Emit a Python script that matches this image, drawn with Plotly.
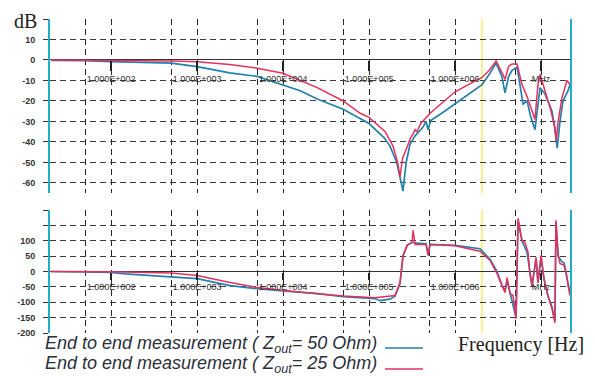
import math
import plotly.graph_objects as go

# ---------------- data ----------------
# Magnitude, Z_out = 50 Ohm (blue)
mag50_freq = [20, 50, 100, 200, 500, 1000, 2400, 5000, 1e4, 1.58e4, 2.5e4, 5e4, 1e5, 1.5e5,
              1.75e5, 2.1e5, 2.48e5, 2.7e5, 3.0e5, 3.43e5, 4.2e5, 4.6e5, 4.86e5, 5.2e5, 7e5,
              1e6, 1.5e6, 2.06e6, 2.5e6, 3.0e6, 3.5e6, 3.81e6, 4.2e6, 4.6e6, 5.26e6, 5.7e6,
              6.18e6, 6.9e6, 7.5e6, 8.5e6, 9.3e6, 9.73e6, 1.11e7, 1.34e7, 1.45e7, 1.54e7,
              1.66e7, 1.8e7, 2.06e7, 2.17e7]
mag50_db = [-0.2, -0.3, -0.8, -1.0, -1.5, -3.2, -6.3, -8, -12, -15, -19, -24, -31, -38,
            -42, -50, -64, -50, -41, -37, -33, -30, -34, -29.5, -26,
            -21.5, -16, -12, -7, -1.5, -8, -16, -8, -5, -3.5, -12,
            -21.5, -20, -27, -34, -20, -13.5, -16.5, -25, -34, -43,
            -30, -20, -15, -12]

# Magnitude, Z_out = 25 Ohm (red)
mag25_freq = [20, 50, 100, 500, 1000, 2400, 5000, 1e4, 1.4e4, 2.5e4, 5e4, 7.9e4, 1e5, 1.54e5,
              1.9e5, 2.15e5, 2.29e5, 2.45e5, 2.8e5, 3.0e5, 3.25e5, 3.43e5, 3.6e5, 4e5, 5.12e5,
              7e5, 1e6, 1.5e6, 2.06e6, 2.5e6, 3.0e6, 3.5e6, 3.81e6, 4.2e6, 4.6e6, 5.26e6,
              5.5e6, 6.0e6, 6.9e6, 7.45e6, 8.5e6, 9.2e6, 9.73e6, 1.11e7, 1.27e7, 1.45e7,
              1.5e7, 1.58e7, 1.75e7, 2.0e7, 2.17e7]
mag25_db = [0, 0, -0.2, -0.5, -0.8, -2.2, -4, -6.5, -9, -13.5, -20, -26, -28, -35,
            -42, -50, -57, -48, -42, -38.5, -36, -34, -35, -31, -26,
            -21, -15.5, -11.5, -8.5, -5, -0.5, -6, -9.5, -3, -2, -2,
            -6, -12, -18, -22.5, -29, -12, -7, -15, -23, -33,
            -39.5, -30, -18.5, -10, -12]

# Phase, Z_out = 50 Ohm (blue)
ph50_freq = [20, 50, 100, 146, 500, 1000, 2420, 5000, 1e4, 2.5e4, 5e4, 1.17e5, 1.34e5, 1.75e5,
             2.0e5, 2.29e5, 2.48e5, 2.77e5, 3.16e5, 3.52e5, 4.6e5, 4.86e5, 5.12e5, 7.66e5,
             1e6, 1.95e6, 2.55e6, 3.08e6, 3.52e6, 3.81e6, 4.03e6, 4.36e6, 5.12e6, 5.4e6,
             5.7e6, 6.0e6, 6.87e6, 7.45e6, 7.86e6, 8.75e6, 9.2e6, 1.0e7, 1.08e7, 1.2e7,
             1.34e7, 1.45e7, 1.49e7, 1.58e7, 1.75e7, 1.85e7, 1.95e7, 2.17e7]
ph50_deg = [0, -1, -3, -8, -18, -23, -46, -56, -63, -72, -82, -88, -95, -90,
            -80, -40, 50, 85, 95, 92, 90, 55, 88, 86,
            85, 74, 40, 0, -46, -62, -30, -69, -150, 165,
            135, 100, 62, -10, -46, 42, -36, 48, -23, -78,
            -115, -160, 160, 50, 32, 28, -3, -69]

# Phase, Z_out = 25 Ohm (red)
ph25_freq = [20, 50, 100, 500, 1000, 2420, 5000, 1e4, 2.5e4, 5e4, 1.17e5, 2.0e5, 2.29e5,
             2.48e5, 2.77e5, 3.16e5, 3.25e5, 3.43e5, 4.6e5, 4.86e5, 5.12e5, 7.66e5, 1e6,
             1.95e6, 2.55e6, 3.08e6, 3.52e6, 3.81e6, 4.03e6, 4.36e6, 4.72e6, 5.12e6, 5.4e6,
             5.7e6, 6.0e6, 6.5e6, 7.06e6, 7.45e6, 7.86e6, 8.75e6, 9.2e6, 1.0e7, 1.08e7,
             1.2e7, 1.34e7, 1.45e7, 1.49e7, 1.58e7, 1.66e7, 1.85e7, 1.95e7, 2.06e7, 2.17e7]
ph25_deg = [0, 0, -1, -5, -13, -36, -52, -62, -72, -80, -85, -78, -36,
            52, 85, 95, 134, 88, 88, 52, 88, 85, 84,
            66, 36, -7, -48, -69, -20, -72, -78, -154, 173,
            141, 100, 95, 62, -13, -46, 46, -36, 52, -23,
            -78, -121, -167, 167, 52, 26, 20, -3, -46, -78]

decade_vals = [1e2, 1e3, 1e4, 1e5, 1e6, 1e7]
decade_labels = ["1.000E+002", "1.000E+003", "1.000E+004", "1.000E+005", "1.000E+006", "MHz"]
half_decade_vals = [50, 500, 5e3, 5e4, 5e5, 5e6]
mag_tickvals = [10, 0, -10, -20, -30, -40, -50, -60]
mag_ticktext = ["10", "0", "-10", "-20", "-30", "-40", "-50", "-60"]
mag_unlabelled = [20]
ph_tickvals = [100, 50, 0, -50, -100, -150, -200]
ph_ticktext = ["100", "50", "0", "-50", "-100", "-150", "-200"]
ph_unlabelled = [200, 150]
marker_freq = 2.06e6

legend_50 = "End to end measurement ( Z<sub>out</sub>= 50 Ohm)"
legend_25 = "End to end measurement ( Z<sub>out</sub>= 25 Ohm)"

# ---------------- styling ----------------
BLUE = "#2381ad"
RED = "#e5305e"
CYAN = "#1fb0c6"
GRID = "#262626"
W, H = 595, 376
ML, MR, MT, MB = 50, 25, 19, 43
PH = H - MT - MB
x_range = [math.log10(19.5), math.log10(2.17e7)]
mag_range = [-64.9, 20]
ph_range = [-200, 200]
top_dom = [(H - MB - 193) / PH, 1.0]
bot_dom = [0.0, (H - MB - 210) / PH]


def zero_pos(dom, rng):
    return dom[0] + (0 - rng[0]) / (rng[1] - rng[0]) * (dom[1] - dom[0])


def px_x(px):
    return (px - ML) / (W - ML - MR)


def px_y(py):
    return (H - MB - py) / PH


fig = go.Figure()
fig.add_trace(go.Scatter(x=mag50_freq, y=mag50_db, xaxis="x", yaxis="y", mode="lines",
                         line=dict(color=BLUE, width=1.7), showlegend=False))
fig.add_trace(go.Scatter(x=mag25_freq, y=mag25_db, xaxis="x", yaxis="y", mode="lines",
                         line=dict(color=RED, width=1.5), showlegend=False))
fig.add_trace(go.Scatter(x=ph50_freq, y=ph50_deg, xaxis="x2", yaxis="y2", mode="lines",
                         line=dict(color=BLUE, width=1.7), showlegend=False))
fig.add_trace(go.Scatter(x=ph25_freq, y=ph25_deg, xaxis="x2", yaxis="y2", mode="lines",
                         line=dict(color=RED, width=1.5), showlegend=False))

xcommon = dict(type="log", range=x_range, domain=[0, 1], anchor="free",
               tickmode="array", tickvals=decade_vals, ticktext=decade_labels,
               ticks="outside", tickcolor="#222", tickwidth=1.5,
               tickfont=dict(family="Liberation Sans", size=9, color="#333"),
               showgrid=True, gridcolor=GRID, gridwidth=1.3, griddash="6px,4px",
               minor=dict(tickmode="array", tickvals=half_decade_vals, showgrid=True,
                          gridcolor=GRID, gridwidth=1.3, griddash="6px,4px", ticks=""),
               showline=False, zeroline=False)

ycommon = dict(showgrid=True, gridcolor="#3a3a3a", gridwidth=1.2, griddash="6px,4px",
               zeroline=True, zerolinecolor="#333", zerolinewidth=1.4,
               showline=True, linecolor=CYAN, linewidth=2, mirror=True,
               ticks="outside", ticklen=5, tickcolor="#333", tickwidth=1.3,
               ticklabelstandoff=6,
               tickfont=dict(family="Liberation Sans", size=9, color="#333", weight="bold"))


def yminor(vals):
    return dict(tickmode="array", tickvals=vals, showgrid=True, gridcolor="#3a3a3a",
                gridwidth=1.2, griddash="6px,4px", ticks="outside", ticklen=5,
                tickcolor="#333", tickwidth=1.3)


leg_font = dict(family="Liberation Sans", size=18, color="#2a2f3a", style="italic")

fig.update_layout(
    width=W, height=H,
    margin=dict(l=ML, r=MR, t=MT, b=MB),
    paper_bgcolor="white", plot_bgcolor="white",
    xaxis=dict(**xcommon, position=zero_pos(top_dom, mag_range), ticklen=10),
    xaxis2=dict(**xcommon, position=zero_pos(bot_dom, ph_range), ticklen=7),
    yaxis=dict(**ycommon, domain=top_dom, range=mag_range, anchor="x",
               tickmode="array", tickvals=mag_tickvals, ticktext=mag_ticktext,
               minor=yminor(mag_unlabelled)),
    yaxis2=dict(**ycommon, domain=bot_dom, range=ph_range, anchor="x2",
                tickmode="array", tickvals=ph_tickvals, ticktext=ph_ticktext,
                minor=yminor(ph_unlabelled)),
    shapes=[
        dict(type="line", xref="x", yref="y domain", x0=marker_freq, x1=marker_freq,
             y0=0, y1=1, line=dict(color="#f2ef6a", width=1.5), layer="below"),
        dict(type="line", xref="x2", yref="y2 domain", x0=marker_freq, x1=marker_freq,
             y0=0, y1=1, line=dict(color="#f2ef6a", width=1.5), layer="below"),
        dict(type="line", xref="paper", yref="paper", x0=px_x(385), x1=px_x(423),
             y0=px_y(348), y1=px_y(348), line=dict(color=BLUE, width=1.6)),
        dict(type="line", xref="paper", yref="paper", x0=px_x(385), x1=px_x(423),
             y0=px_y(369), y1=px_y(369), line=dict(color=RED, width=1.6)),
    ],
    annotations=[
        dict(text="dB", xref="paper", yref="paper", x=px_x(25), y=px_y(21),
             xanchor="center", yanchor="middle", showarrow=False,
             font=dict(family="Liberation Serif", size=20, color="#222")),
        dict(text=legend_50, xref="paper", yref="paper", x=px_x(43), y=px_y(344),
             xanchor="left", yanchor="middle", showarrow=False, font=leg_font),
        dict(text=legend_25, xref="paper", yref="paper", x=px_x(43), y=px_y(364),
             xanchor="left", yanchor="middle", showarrow=False, font=leg_font),
        dict(text="Frequency [Hz]", xref="paper", yref="paper", x=px_x(456), y=px_y(344),
             xanchor="left", yanchor="middle", showarrow=False,
             font=dict(family="Liberation Serif", size=20, color="#222")),
    ],
)

fig.write_html("out.html")
